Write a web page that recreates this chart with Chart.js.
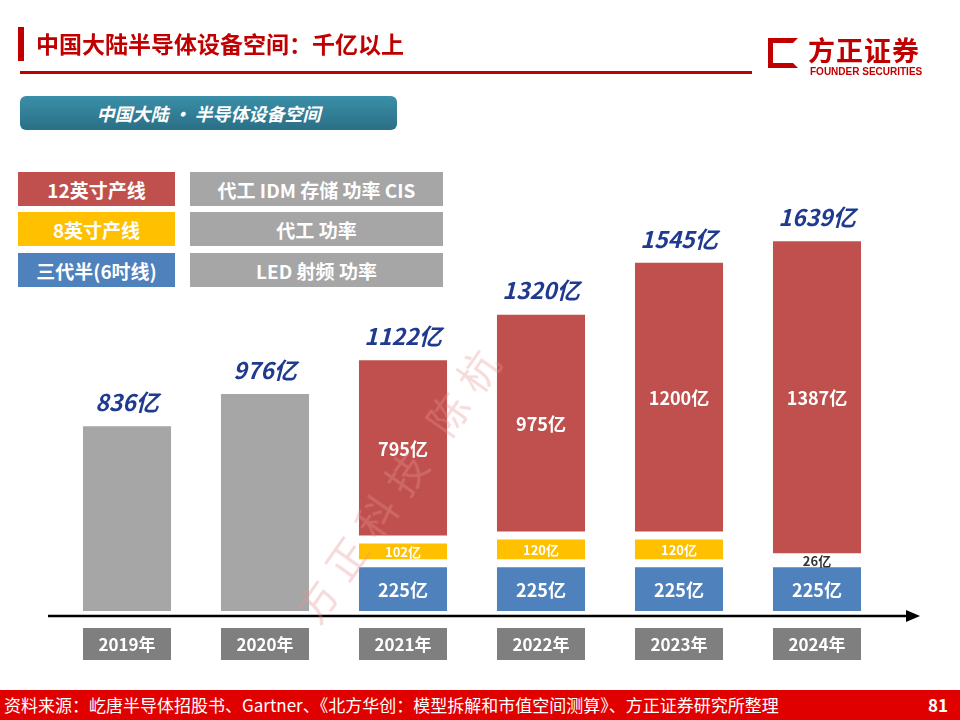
<!DOCTYPE html>
<html><head><meta charset="utf-8">
<script src="https://cdn.jsdelivr.net/npm/chart.js@4/dist/chart.umd.min.js"></script>
<style>
body{margin:0;width:960px;height:720px;position:relative;overflow:hidden;background:#fff;font-family:"Noto Sans CJK SC","Noto Sans",sans-serif}
#c{position:absolute;left:0;top:0}
.abs{position:absolute}
.box{position:absolute;color:#fff;font-weight:bold;font-size:19px;display:flex;align-items:center;justify-content:center;height:34px}
</style></head><body>
<canvas id="c" width="960" height="720"></canvas>
<div class="abs" style="left:18px;top:27px;width:6px;height:34px;background:#c00000"></div>
<div class="abs" style="left:36px;top:26px;font-size:23px;font-weight:bold;color:#c00000">中国大陆半导体设备空间：千亿以上</div>
<div class="abs" style="left:20px;top:71px;width:732px;height:3px;background:#c00000"></div>
<div class="abs" style="left:768px;top:38px;width:30px;height:30px;border:5px solid #c00000;box-sizing:border-box;border-right-color:transparent"></div>
<div class="abs" style="left:808px;top:30px;font-size:27px;font-weight:bold;color:#c00000;letter-spacing:1px">方正证券</div>
<div class="abs" style="left:810px;top:66px;font-size:10px;font-weight:bold;color:#c00000;font-family:'Liberation Sans'">FOUNDER SECURITIES</div>
<div class="abs" style="left:20px;top:96px;width:377px;height:34px;border-radius:6px;background:linear-gradient(#3b8fa8,#2a6f86);color:#fff;font-style:italic;font-weight:bold;font-size:18px;line-height:34px;text-align:center">中国大陆 · 半导体设备空间</div>
<div class="box" style="left:18px;top:172px;width:157px;background:#c0504d">12英寸产线</div>
<div class="box" style="left:190px;top:172px;width:253px;background:#a6a6a6">代工 IDM 存储 功率 CIS</div>
<div class="box" style="left:18px;top:212px;width:157px;background:#ffc000">8英寸产线</div>
<div class="box" style="left:190px;top:212px;width:253px;background:#a6a6a6">代工 功率</div>
<div class="box" style="left:18px;top:253px;width:157px;background:#4f81bd">三代半(6吋线)</div>
<div class="box" style="left:190px;top:253px;width:253px;background:#a6a6a6">LED 射频 功率</div>
<div class="abs" style="left:280px;font-size:40px;color:rgba(230,150,150,0.35);transform:rotate(-55deg);transform-origin:left top;letter-spacing:12px;top:600px">方正科技 陈杭</div>
<div class="abs" style="left:0;top:690px;width:960px;height:30px;background:#e00000;color:#fff;font-size:17px;line-height:30px">
<span style="margin-left:4px">资料来源：屹唐半导体招股书、Gartner、《北方华创：模型拆解和市值空间测算》、方正证券研究所整理</span>
<span style="position:absolute;right:12px;font-weight:bold">81</span></div>
<script>
const years = ['2019年','2020年','2021年','2022年','2023年','2024年'];
const totalGray = [836, 976, null, null, null, null];
const thirdGen = [null, null, 225, 225, 225, 225];
const inch8 = [null, null, 102, 120, 120, 26];
const inch12 = [null, null, 795, 975, 1200, 1387];
const totals = [836, 976, 1122, 1320, 1545, 1639];

const ds = (data, color) => ({data, backgroundColor: color, borderColor: '#fff', borderWidth: {top: 4, bottom: 4, left: 0, right: 0}, borderSkipped: false, categoryPercentage: 1, barPercentage: 0.64, stack: 's'});

const labelPlugin = {
  id: 'labels',
  afterDatasetsDraw(chart) {
    const ctx = chart.ctx, area = chart.chartArea, x = chart.scales.x, y = chart.scales.y;
    ctx.save();
    ctx.textAlign = 'center'; ctx.textBaseline = 'middle';
    chart.data.datasets.forEach((d, di) => {
      if (di === 0) return;
      chart.getDatasetMeta(di).data.forEach((bar, i) => {
        const v = d.data[i]; if (v == null) return;
        const tiny = Math.abs(bar.base - bar.y) < 14;
        ctx.fillStyle = tiny ? '#333' : '#fff';
        ctx.font = 'bold ' + (v < 150 ? 13 : 18) + 'px "Noto Sans CJK SC"';
        ctx.fillText(v + '亿', bar.x, (bar.y + bar.base) / 2 + 1);
      });
    });
    totals.forEach((t, i) => {
      ctx.fillStyle = '#1f3a8f';
      ctx.font = 'italic bold 23px "Noto Sans CJK SC"';
      ctx.fillText(t + '亿', x.getPixelForValue(i), y.getPixelForValue(t) - 20);
      ctx.fillStyle = '#7f7f7f';
      const cx = x.getPixelForValue(i);
      ctx.fillRect(cx - 44, 628, 88, 32);
      ctx.fillStyle = '#fff';
      ctx.font = 'bold 17px "Noto Sans CJK SC"';
      ctx.fillText(years[i], cx, 645);
    });
    ctx.strokeStyle = '#000'; ctx.lineWidth = 2.5;
    ctx.beginPath(); ctx.moveTo(48, area.bottom + 1); ctx.lineTo(912, area.bottom + 1); ctx.stroke();
    ctx.fillStyle = '#000';
    ctx.beginPath(); ctx.moveTo(920, area.bottom + 1); ctx.lineTo(906, area.bottom - 5); ctx.lineTo(906, area.bottom + 7); ctx.fill();
    ctx.restore();
  }
};

new Chart(document.getElementById('c'), {
  type: 'bar',
  data: {labels: years, datasets: [ds(totalGray, '#a6a6a6'), ds(thirdGen, '#4f81bd'), ds(inch8, '#ffc000'), ds(inch12, '#c0504d')]},
  options: {
    responsive: false, animation: false,
    layout: {padding: {left: 58, right: 74, top: 200, bottom: 105}},
    plugins: {legend: {display: false}, tooltip: {enabled: false}},
    scales: {
      x: {display: false, stacked: true},
      y: {display: false, stacked: true, min: 0, max: 1800}
    }
  },
  plugins: [labelPlugin]
});
</script>
</body></html>
